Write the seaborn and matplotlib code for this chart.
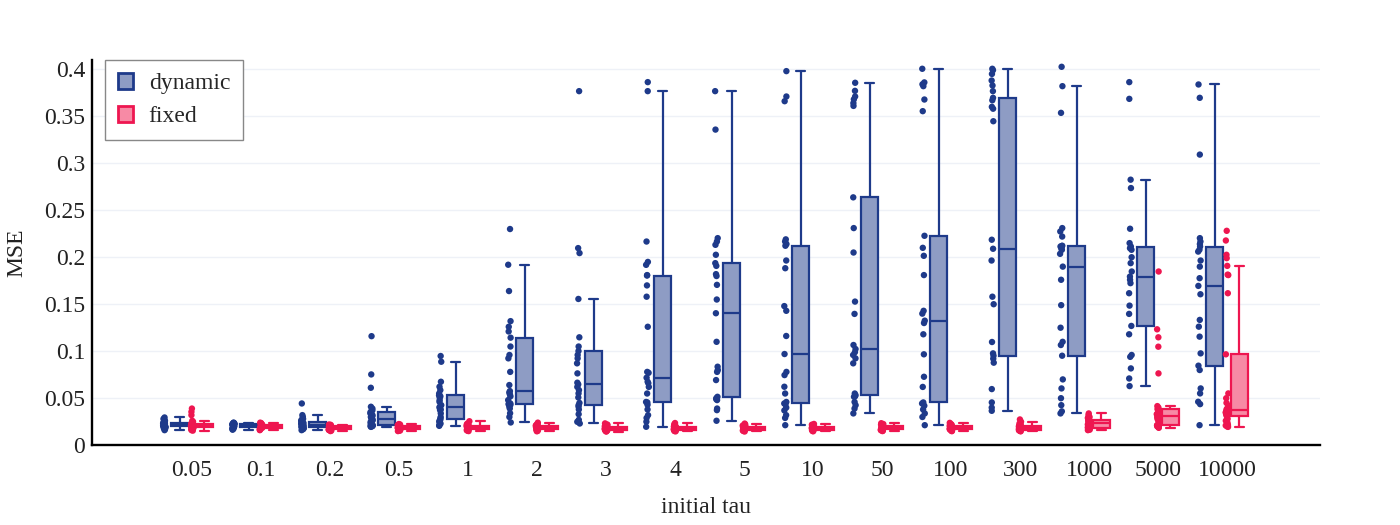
import numpy as np
import pandas as pd
import matplotlib
matplotlib.use("Agg")
import matplotlib.pyplot as plt
import matplotlib.transforms as mtransforms
from matplotlib.patches import Patch
import seaborn as sns

# categories on the x axis
taus = ["0.05", "0.1", "0.2", "0.5", "1", "2", "3", "4", "5", "10", "50", "100", "300", "1000", "5000", "10000"]
modes = ["dynamic", "fixed"]

# MSE per run, dynamic tau (one list per initial tau)
dynamic_mse = [
    [0.016, 0.017, 0.018, 0.0185, 0.019, 0.0195, 0.020, 0.0205, 0.021, 0.021, 0.0213, 0.0217, 0.022, 0.0223, 0.0227, 0.023, 0.0233, 0.0237, 0.024, 0.0245, 0.025, 0.026, 0.027, 0.028, 0.0295],
    [0.0165, 0.017, 0.0175, 0.018, 0.0185, 0.019, 0.0195, 0.0198, 0.020, 0.0202, 0.0205, 0.0208, 0.021, 0.0212, 0.0215, 0.0218, 0.022, 0.0222, 0.0225, 0.0228, 0.023, 0.0232, 0.0235, 0.0238, 0.024],
    [0.016, 0.017, 0.0175, 0.018, 0.0185, 0.019, 0.0195, 0.020, 0.0205, 0.021, 0.0213, 0.0217, 0.022, 0.0225, 0.023, 0.0235, 0.024, 0.0245, 0.025, 0.026, 0.027, 0.028, 0.030, 0.032, 0.0444],
    [0.0195, 0.020, 0.0203, 0.0205, 0.0208, 0.021, 0.0213, 0.022, 0.0235, 0.025, 0.026, 0.027, 0.0284, 0.029, 0.030, 0.031, 0.032, 0.034, 0.0355, 0.037, 0.039, 0.0409, 0.0611, 0.0753, 0.116],
    [0.0206, 0.0213, 0.023, 0.0249, 0.026, 0.027, 0.0284, 0.030, 0.0338, 0.0373, 0.038, 0.040, 0.041, 0.0426, 0.0462, 0.048, 0.0508, 0.052, 0.053, 0.055, 0.0586, 0.0622, 0.0675, 0.0888, 0.0949],
    [0.0242, 0.030, 0.034, 0.039, 0.041, 0.043, 0.0437, 0.0444, 0.048, 0.052, 0.054, 0.056, 0.0576, 0.064, 0.078, 0.0924, 0.096, 0.105, 0.1144, 0.121, 0.126, 0.132, 0.164, 0.192, 0.230],
    [0.0231, 0.0249, 0.027, 0.033, 0.038, 0.041, 0.0426, 0.045, 0.0508, 0.0551, 0.0586, 0.062, 0.0647, 0.0665, 0.0764, 0.0871, 0.0924, 0.096, 0.1002, 0.105, 0.1148, 0.1556, 0.2044, 0.2097, 0.3767],
    [0.0196, 0.025, 0.029, 0.032, 0.038, 0.043, 0.0455, 0.046, 0.055, 0.062, 0.066, 0.0675, 0.0718, 0.077, 0.078, 0.126, 0.158, 0.170, 0.1805, 0.181, 0.1919, 0.195, 0.2167, 0.3767, 0.3863],
    [0.026, 0.0373, 0.039, 0.048, 0.049, 0.050, 0.0515, 0.0693, 0.078, 0.080, 0.0835, 0.110, 0.1404, 0.155, 0.1706, 0.180, 0.182, 0.1908, 0.1937, 0.2026, 0.2132, 0.2167, 0.2203, 0.3358, 0.3767],
    [0.0213, 0.029, 0.032, 0.037, 0.040, 0.0435, 0.0444, 0.046, 0.055, 0.0622, 0.0746, 0.078, 0.097, 0.1162, 0.143, 0.148, 0.1883, 0.1965, 0.2122, 0.214, 0.2167, 0.219, 0.366, 0.371, 0.398],
    [0.0338, 0.039, 0.0426, 0.046, 0.0515, 0.052, 0.0533, 0.055, 0.0871, 0.0924, 0.096, 0.099, 0.1023, 0.1066, 0.1397, 0.1528, 0.205, 0.231, 0.2637, 0.361, 0.364, 0.368, 0.371, 0.377, 0.3856],
    [0.0213, 0.030, 0.0338, 0.038, 0.042, 0.0444, 0.0455, 0.062, 0.0728, 0.0967, 0.118, 0.130, 0.1325, 0.140, 0.143, 0.181, 0.2015, 0.210, 0.2228, 0.3554, 0.3678, 0.382, 0.384, 0.386, 0.4005],
    [0.0366, 0.040, 0.0455, 0.0597, 0.0878, 0.092, 0.0952, 0.0977, 0.1098, 0.150, 0.158, 0.1965, 0.209, 0.2186, 0.3447, 0.358, 0.360, 0.367, 0.3696, 0.3767, 0.3827, 0.388, 0.395, 0.399, 0.4005],
    [0.0338, 0.036, 0.0426, 0.050, 0.0604, 0.070, 0.0952, 0.1066, 0.110, 0.125, 0.149, 0.176, 0.190, 0.2036, 0.2079, 0.209, 0.2114, 0.212, 0.2122, 0.222, 0.2274, 0.231, 0.3536, 0.382, 0.4026],
    [0.0629, 0.071, 0.0817, 0.094, 0.096, 0.118, 0.1269, 0.1397, 0.1485, 0.1617, 0.1724, 0.176, 0.1794, 0.1848, 0.1937, 0.200, 0.2079, 0.2096, 0.2114, 0.215, 0.2303, 0.2736, 0.2825, 0.3685, 0.3863],
    [0.0213, 0.0437, 0.0462, 0.0551, 0.0604, 0.080, 0.0846, 0.0977, 0.1155, 0.1261, 0.1333, 0.1606, 0.1695, 0.1777, 0.190, 0.1965, 0.206, 0.208, 0.2114, 0.214, 0.2167, 0.2203, 0.3092, 0.3696, 0.3838],
]

# MSE per run, fixed tau
fixed_mse = [
    [0.0155, 0.016, 0.017, 0.0175, 0.018, 0.0185, 0.019, 0.0195, 0.0198, 0.020, 0.0203, 0.0207, 0.021, 0.0213, 0.0217, 0.022, 0.0223, 0.0227, 0.023, 0.024, 0.025, 0.026, 0.032, 0.0355, 0.039],
    [0.016, 0.0165, 0.017, 0.0172, 0.0175, 0.0178, 0.018, 0.0183, 0.0186, 0.0188, 0.019, 0.0193, 0.0195, 0.0198, 0.020, 0.0202, 0.0205, 0.0208, 0.021, 0.0215, 0.022, 0.0225, 0.023, 0.0235, 0.024],
    [0.015, 0.0155, 0.016, 0.0162, 0.0165, 0.0168, 0.017, 0.0173, 0.0176, 0.0178, 0.018, 0.0183, 0.0185, 0.0188, 0.019, 0.0193, 0.0195, 0.0198, 0.020, 0.0203, 0.0207, 0.021, 0.0213, 0.0217, 0.022],
    [0.015, 0.0155, 0.0158, 0.016, 0.0163, 0.0165, 0.0168, 0.017, 0.0174, 0.0177, 0.018, 0.0182, 0.0185, 0.0188, 0.019, 0.0192, 0.0195, 0.0198, 0.020, 0.0204, 0.0208, 0.0212, 0.0216, 0.022, 0.0225],
    [0.0150, 0.0155, 0.0158, 0.0160, 0.0163, 0.0166, 0.0170, 0.0173, 0.0176, 0.0178, 0.0181, 0.0183, 0.0186, 0.0188, 0.0191, 0.0194, 0.0197, 0.0200, 0.0204, 0.0208, 0.0212, 0.0217, 0.0222, 0.0230, 0.0255],
    [0.0148, 0.0152, 0.0156, 0.0159, 0.0162, 0.0165, 0.0168, 0.0171, 0.0174, 0.0177, 0.0179, 0.0182, 0.0185, 0.0187, 0.0190, 0.0193, 0.0196, 0.0199, 0.0203, 0.0207, 0.0211, 0.0216, 0.0221, 0.0228, 0.0240],
    [0.0145, 0.0149, 0.0153, 0.0156, 0.0159, 0.0162, 0.0165, 0.0168, 0.0170, 0.0173, 0.0175, 0.0178, 0.0180, 0.0183, 0.0185, 0.0188, 0.0191, 0.0194, 0.0197, 0.0201, 0.0205, 0.0209, 0.0214, 0.0220, 0.0232],
    [0.0147, 0.0151, 0.0154, 0.0157, 0.0160, 0.0163, 0.0166, 0.0169, 0.0171, 0.0174, 0.0176, 0.0179, 0.0181, 0.0184, 0.0186, 0.0189, 0.0192, 0.0195, 0.0198, 0.0202, 0.0206, 0.0210, 0.0215, 0.0222, 0.0236],
    [0.0146, 0.0150, 0.0153, 0.0156, 0.0159, 0.0162, 0.0165, 0.0168, 0.0171, 0.0173, 0.0176, 0.0178, 0.0181, 0.0183, 0.0186, 0.0188, 0.0191, 0.0194, 0.0198, 0.0201, 0.0205, 0.0209, 0.0214, 0.0221, 0.0230],
    [0.0148, 0.0151, 0.0155, 0.0158, 0.0161, 0.0163, 0.0166, 0.0169, 0.0171, 0.0174, 0.0176, 0.0178, 0.0181, 0.0183, 0.0185, 0.0188, 0.0190, 0.0193, 0.0196, 0.0200, 0.0203, 0.0207, 0.0212, 0.0218, 0.0226],
    [0.0150, 0.0154, 0.0158, 0.0161, 0.0164, 0.0167, 0.0170, 0.0173, 0.0176, 0.0178, 0.0181, 0.0183, 0.0186, 0.0188, 0.0191, 0.0193, 0.0196, 0.0199, 0.0202, 0.0206, 0.0210, 0.0214, 0.0219, 0.0225, 0.0234],
    [0.0149, 0.0153, 0.0157, 0.0160, 0.0163, 0.0166, 0.0169, 0.0172, 0.0175, 0.0178, 0.0180, 0.0183, 0.0185, 0.0188, 0.0190, 0.0193, 0.0196, 0.0199, 0.0202, 0.0205, 0.0209, 0.0213, 0.0218, 0.0224, 0.0238],
    [0.0148, 0.015, 0.0155, 0.0158, 0.016, 0.0162, 0.0165, 0.0168, 0.017, 0.0172, 0.0175, 0.0178, 0.018, 0.0183, 0.0186, 0.019, 0.0193, 0.0196, 0.020, 0.0205, 0.021, 0.022, 0.023, 0.025, 0.0274],
    [0.016, 0.0165, 0.017, 0.0175, 0.018, 0.0185, 0.0188, 0.019, 0.020, 0.021, 0.022, 0.023, 0.0238, 0.024, 0.0245, 0.025, 0.0255, 0.026, 0.0267, 0.027, 0.028, 0.029, 0.030, 0.032, 0.0338],
    [0.0185, 0.019, 0.0195, 0.020, 0.0205, 0.021, 0.021, 0.0213, 0.022, 0.024, 0.026, 0.028, 0.029, 0.030, 0.0313, 0.032, 0.033, 0.034, 0.035, 0.036, 0.037, 0.0384, 0.040, 0.0416, 0.0764, 0.1048, 0.1148, 0.1233, 0.1848],
    [0.0195, 0.020, 0.021, 0.0213, 0.022, 0.024, 0.026, 0.028, 0.0313, 0.032, 0.033, 0.034, 0.0345, 0.035, 0.0355, 0.036, 0.0373, 0.038, 0.039, 0.040, 0.042, 0.045, 0.050, 0.0551, 0.0967, 0.1617, 0.181, 0.1815, 0.1908, 0.199, 0.2026, 0.2178, 0.2281],
]

line_colors = {"dynamic": "#1e3a8a", "fixed": "#ee1650"}
fill_colors = {"dynamic": "#8e9cc4", "fixed": "#f78aa5"}

rows = []
for tau, dyn, fix in zip(taus, dynamic_mse, fixed_mse):
    rows += [(tau, "dynamic", v) for v in dyn]
    rows += [(tau, "fixed", v) for v in fix]
df = pd.DataFrame(rows, columns=["initial tau", "mode", "MSE"])

sns.set_theme(style="white")
plt.rcParams["font.family"] = ["Liberation Serif", "DejaVu Serif"]
np.random.seed(3)

fig, ax = plt.subplots(figsize=(14, 5.25), dpi=100)
fig.subplots_adjust(left=0.0657, right=0.943, top=0.886, bottom=0.152)

# one boxplot call per mode so each gets its own outline colour
for mode in modes:
    sns.boxplot(data=df[df["mode"] == mode], x="initial tau", y="MSE", hue="mode",
                order=taus, hue_order=modes, dodge=True, width=0.72, gap=0.3,
                palette=fill_colors, saturation=1, linecolor=line_colors[mode],
                linewidth=1.6, showfliers=False, legend=False, ax=ax)

n_before = len(ax.collections)
sns.stripplot(data=df, x="initial tau", y="MSE", hue="mode", order=taus, hue_order=modes,
              dodge=True, jitter=0.04, size=4.6, palette=line_colors, linewidth=0,
              legend=False, ax=ax)
# plotly-style: points sit just left of their box
shift = mtransforms.Affine2D().translate(-0.2, 0) + ax.transData
for coll in ax.collections[n_before:]:
    coll.set_offset_transform(shift)

ax.set_xlim(-1.45, 16.35)
ax.set_ylim(0, 0.41)
yt = np.round(np.arange(0, 0.401, 0.05), 2)
ax.set_yticks(yt)
ax.set_yticklabels([f"{v:g}" for v in yt])
ax.yaxis.grid(True, color="#eef1f7", linewidth=1)
ax.set_axisbelow(True)
for s in ["top", "right"]:
    ax.spines[s].set_visible(False)
for s in ["left", "bottom"]:
    ax.spines[s].set_color("black")
    ax.spines[s].set_linewidth(1.7)
ax.tick_params(axis="both", length=0, labelsize=17, colors="#222222")
ax.tick_params(axis="x", pad=11)
ax.tick_params(axis="y", pad=5)
ax.set_xlabel("initial tau", fontsize=17, labelpad=11, color="#222222")
ax.set_ylabel("MSE", fontsize=17, labelpad=12, color="#222222")

handles = [Patch(facecolor=fill_colors[m], edgecolor=line_colors[m], linewidth=2) for m in modes]
leg = ax.legend(handles, modes, loc="upper left", bbox_to_anchor=(0.0106, 1.0), borderaxespad=0,
                fontsize=17, frameon=True, fancybox=False, framealpha=1, edgecolor="#888888",
                handlelength=0.65, handleheight=0.65, handletextpad=0.65, labelspacing=0.5,
                borderpad=0.55)
leg.get_frame().set_linewidth(1)

fig.savefig("out.png", dpi=100)
